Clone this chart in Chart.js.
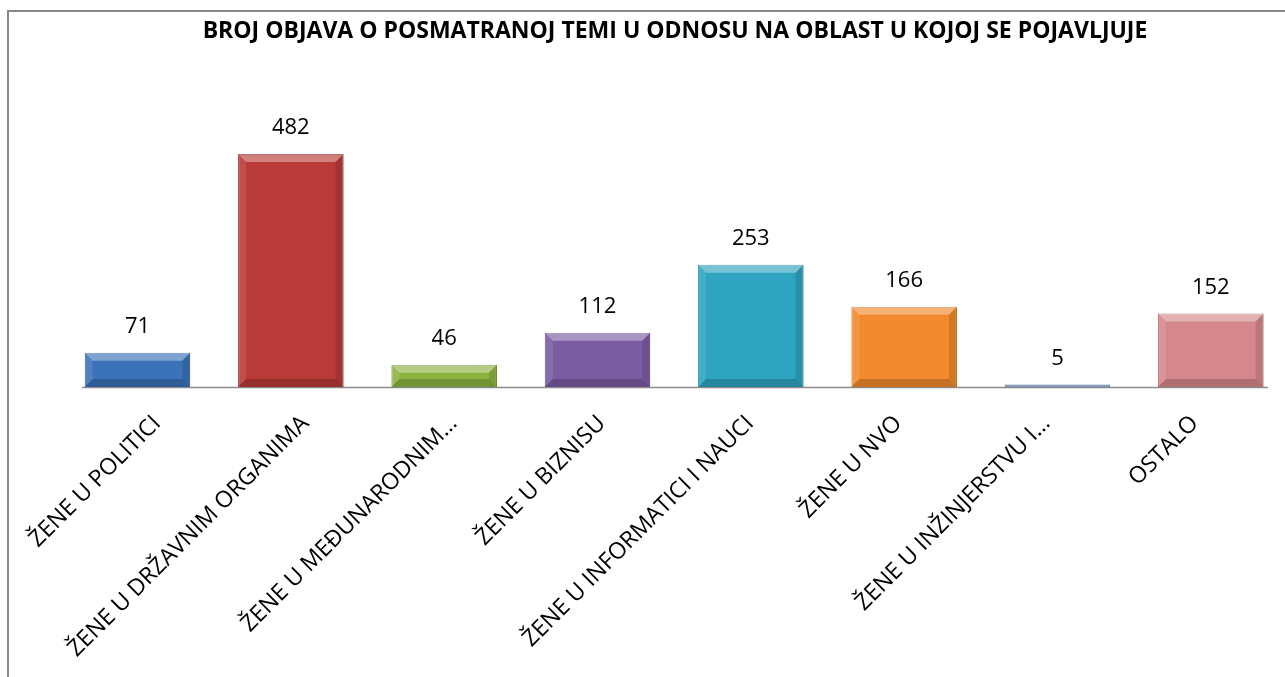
<!DOCTYPE html>
<html>
<head>
<meta charset="utf-8">
<script src="https://cdn.jsdelivr.net/npm/chart.js@4/dist/chart.umd.min.js"></script>
<style>
    html, body { margin: 0; padding: 0; background: #fff; }
    .wrap { position: relative; width: 1285px; height: 677px; overflow: hidden; }
    .frame { position: absolute; left: 7px; top: 10px; width: 1290px; height: 680px; border-left: 2px solid #878787; border-top: 2px solid #878787; }
    canvas { position: absolute; left: 0; top: 0; }
</style>
</head>
<body>
<div class="wrap">
    <div class="frame"></div>
    <canvas id="chart" width="1285" height="677"></canvas>
</div>
<script>
    "use strict";

    const TITLE = "BROJ OBJAVA O POSMATRANOJ TEMI U ODNOSU NA OBLAST U KOJOJ SE POJAVLJUJE";
    const kategorije = [
        "ŽENE U POLITICI",
        "ŽENE U DRŽAVNIM ORGANIMA",
        "ŽENE U MEĐUNARODNIM…",
        "ŽENE U BIZNISU",
        "ŽENE U INFORMATICI I NAUCI",
        "ŽENE U NVO",
        "ŽENE U INŽINJERSTVU I…",
        "OSTALO"
    ];
    const brojObjava = [71, 482, 46, 112, 253, 166, 5, 152];
    const boje = ["#3b72b9", "#b93b38", "#8db33f", "#7b5ca3", "#2ea4c1", "#f2892c", "#7a93b8", "#d6878b"];
    const okviri = ["#2a5488", "#832725", "#66832b", "#573f78", "#1f7a90", "#b8621b", "#5a6f8e", "#a3605f"];

    const FONT = "'Open Sans', 'DejaVu Sans', sans-serif";

    // reljefni efekat na stupcima (kao Excel bevel)
    const bevelPlugin = {
        id: "bevel",
        afterDatasetsDraw(chart) {
            const ctx = chart.ctx;
            chart.getDatasetMeta(0).data.forEach((bar) => {
                const p = bar.getProps(["x", "y", "base", "width"], true);
                const x1 = p.x - p.width / 2, x2 = p.x + p.width / 2;
                const y1 = p.y, y2 = p.base;
                const b = Math.min(8, (y2 - y1) / 2);
                if (b < 2) return;
                const poly = (pts, fill) => {
                    ctx.beginPath();
                    ctx.moveTo(pts[0][0], pts[0][1]);
                    pts.slice(1).forEach((q) => ctx.lineTo(q[0], q[1]));
                    ctx.closePath();
                    ctx.fillStyle = fill;
                    ctx.fill();
                };
                ctx.save();
                poly([[x1, y1], [x2, y1], [x2 - b, y1 + b], [x1 + b, y1 + b]], "rgba(255,255,255,0.35)");
                poly([[x1, y1], [x1 + b, y1 + b], [x1 + b, y2 - b], [x1, y2]], "rgba(255,255,255,0.1)");
                poly([[x2, y1], [x2, y2], [x2 - b, y2 - b], [x2 - b, y1 + b]], "rgba(0,0,0,0.12)");
                poly([[x1, y2], [x1 + b, y2 - b], [x2 - b, y2 - b], [x2, y2]], "rgba(0,0,0,0.18)");
                ctx.restore();
            });
        }
    };

    // osnovna linija i vrijednosti iznad stupaca
    const labelsPlugin = {
        id: "vrijednosti",
        beforeDatasetsDraw(chart) {
            const ctx = chart.ctx;
            const area = chart.chartArea;
            const base = chart.scales.y.getPixelForValue(0);
            ctx.save();
            ctx.strokeStyle = "#8c8c8c";
            ctx.lineWidth = 1.5;
            ctx.beginPath();
            ctx.moveTo(area.left, base + 0.5);
            ctx.lineTo(area.right, base + 0.5);
            ctx.stroke();
            ctx.restore();
        },
        afterDatasetsDraw(chart) {
            const ctx = chart.ctx;
            ctx.save();
            ctx.font = "22px " + FONT;
            ctx.fillStyle = "#000";
            ctx.textAlign = "center";
            ctx.textBaseline = "middle";
            chart.getDatasetMeta(0).data.forEach((bar, i) => {
                ctx.fillText(String(brojObjava[i]), bar.x, bar.y - 26);
            });
            ctx.restore();
        }
    };

    new Chart(document.getElementById("chart"), {
        type: "bar",
        data: {
            labels: kategorije,
            datasets: [{
                data: brojObjava.map((v, i) => ({ x: i, y: v })),
                xAxisID: "xb",
                backgroundColor: boje,
                borderColor: okviri,
                borderWidth: 1,
                barPercentage: 0.688,
                categoryPercentage: 1,
                clip: false
            }]
        },
        options: {
            responsive: false,
            animation: false,
            events: [],
            layout: { padding: { left: 82, right: 17, top: 0, bottom: 0 } },
            plugins: {
                legend: { display: false },
                tooltip: { enabled: false },
                title: {
                    display: true,
                    text: TITLE,
                    fullSize: false,
                    color: "#000",
                    font: { family: FONT, size: 23, weight: "bold", lineHeight: 1.2 },
                    padding: { top: 18, bottom: 34.4 }
                }
            },
            scales: {
                x: {
                    type: "category",
                    offset: true,
                    grid: { display: false, drawTicks: false },
                    border: { display: false },
                    ticks: {
                        color: "#000",
                        font: { family: FONT, size: 23 },
                        autoSkip: false,
                        minRotation: 45,
                        maxRotation: 45,
                        labelOffset: 1,
                        padding: 23
                    },
                    afterFit(scale) {
                        scale.height = 290;
                        scale.paddingLeft = 0;
                        scale.paddingRight = 0;
                    }
                },
                xb: {
                    type: "linear",
                    display: false,
                    offset: false,
                    grid: { offset: false },
                    min: -0.362,
                    max: 7.373,
                    ticks: { stepSize: 1 },
                    afterBuildTicks(scale) {
                        scale.ticks = scale.ticks.filter((t) => Number.isInteger(t.value));
                    }
                },
                y: { display: false, min: 0, max: 635 }
            }
        },
        plugins: [labelsPlugin, bevelPlugin]
    });
</script>
</body>
</html>
